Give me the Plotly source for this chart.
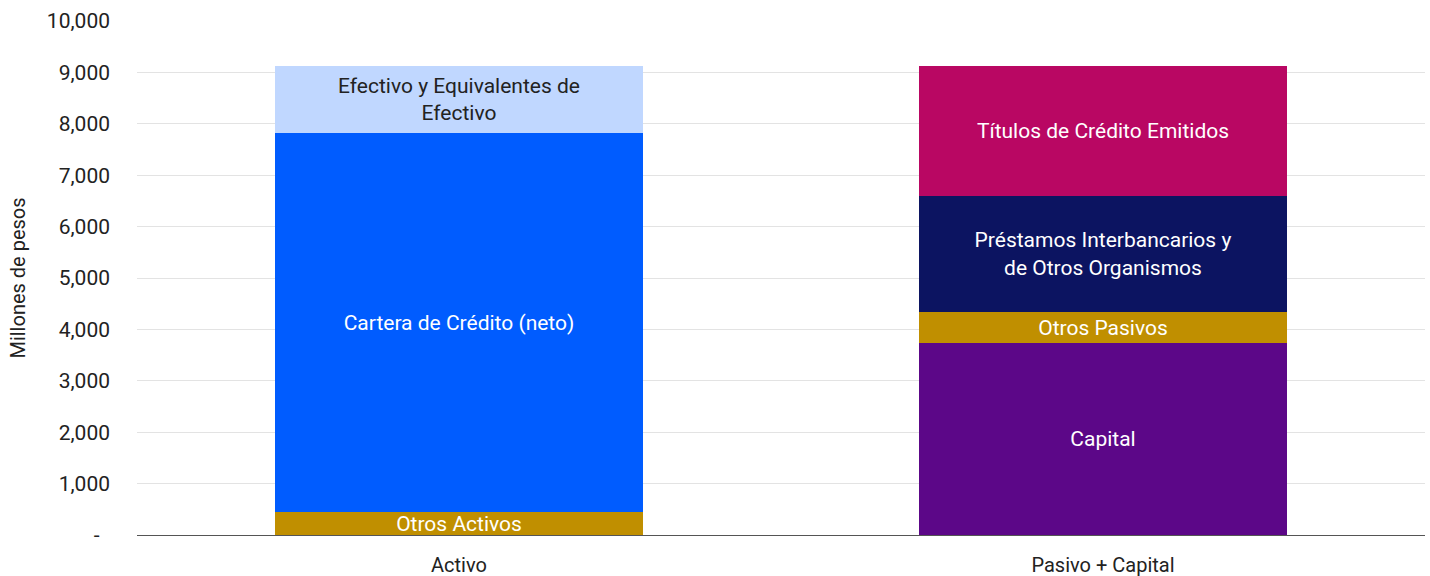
import plotly.graph_objects as go

categories = ["Activo", "Pasivo + Capital"]

# Activo components (millones de pesos)
otros_activos = [445, None]
cartera_credito = [7374, None]
efectivo = [1302, None]

# Pasivo + Capital components
capital = [None, 3735]
otros_pasivos = [None, 603]
prestamos = [None, 2263]
titulos = [None, 2524]

y_tickvals = [0, 1000, 2000, 3000, 4000, 5000, 6000, 7000, 8000, 9000, 10000]
y_ticktext = ["-\u00a0\u00a0", "1,000", "2,000", "3,000", "4,000", "5,000", "6,000", "7,000", "8,000", "9,000", "10,000"]

FONT = "Roboto"

series = [
    ("Otros Activos", otros_activos, "#C08F00", "white"),
    ("Cartera de Crédito (neto)", cartera_credito, "#005CFF", "white"),
    ("Efectivo y Equivalentes de<br>Efectivo", efectivo, "#C0D7FF", "#222222"),
    ("Capital", capital, "#5C0788", "white"),
    ("Otros Pasivos", otros_pasivos, "#C08F00", "white"),
    ("Préstamos Interbancarios y<br>de Otros Organismos", prestamos, "#0C1461", "white"),
    ("Títulos de Crédito Emitidos", titulos, "#B90763", "white"),
]

fig = go.Figure()
for name, vals, color, tcolor in series:
    fig.add_trace(go.Bar(
        x=categories, y=vals, name=name.replace("<br>", " "),
        marker=dict(color=color, line=dict(width=0)),
        text=[name if v is not None else "" for v in vals],
        textposition="inside", insidetextanchor="middle", textangle=0,
        textfont=dict(family=FONT, size=21, color=tcolor),
        hoverinfo="skip",
    ))

fig.update_layout(
    barmode="stack",
    bargap=0.43,
    width=1430, height=576,
    margin=dict(l=137, r=5, t=21, b=41),
    plot_bgcolor="white", paper_bgcolor="white",
    showlegend=False,
    uniformtext=dict(minsize=21, mode="show"),
    font=dict(family=FONT, size=19, color="#222222"),
)
fig.update_yaxes(
    range=[0, 10000], tickvals=y_tickvals, ticktext=y_ticktext,
    showgrid=True, gridcolor="#E3E3E3", gridwidth=1,
    zeroline=False, showline=False, automargin=False,
    ticklabelstandoff=26,
    tickfont=dict(family=FONT, size=21, color="#222222"),
    title=dict(text="Millones de pesos", font=dict(family=FONT, size=20, color="#222222"), standoff=15),
)
fig.update_xaxes(
    showline=True, linecolor="#555555", linewidth=1, automargin=False,
    ticks="", ticklabelstandoff=12,
    tickfont=dict(family=FONT, size=20, color="#222222"),
)

fig.write_html(
    "out.html",
    config={"displayModeBar": False},
    post_script="document.body.style.margin='0';document.body.style.overflow='hidden';",
)
